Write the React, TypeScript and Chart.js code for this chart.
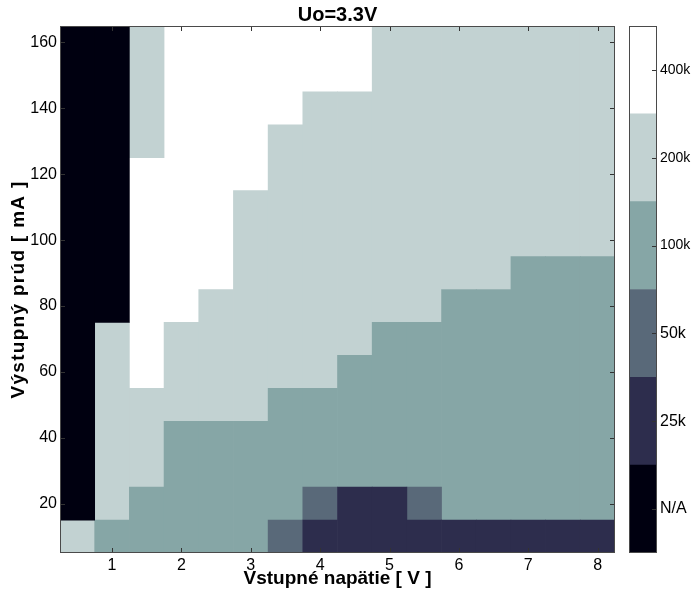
import React, { useEffect, useRef } from 'react';
import { Chart, registerables } from 'chart.js';

Chart.register(...registerables);

// ---- text ----
const titleText = 'Uo=3.3V';
const xTitle = 'Vstupné napätie [ V ]';
const yTitle = 'Výstupný prúd [ mA ]';

// ---- axes ----
const voltages = [0.5, 1.0, 1.5, 2.0, 2.5, 3.0, 3.5, 4.0, 4.5, 5.0, 5.5, 6.0, 6.5, 7.0, 7.5, 8.0];
const currents = [10, 20, 30, 40, 50, 60, 70, 80, 90, 100, 110, 120, 130, 140, 150, 160];
const xTicks = [1, 2, 3, 4, 5, 6, 7, 8];
const yTicks = [20, 40, 60, 80, 100, 120, 140, 160];

// ---- colour levels (index used in the cell arrays) ----
const levelLabels = ['N/A', '25k', '50k', '100k', '200k', '400k'];
const levelColors = ['#000010', '#2d2d4d', '#596979', '#86a6a6', '#c2d2d2', '#ffffff'];
const levelFontSizes = [16, 16, 16, 14, 14, 14];

// ---- cell levels per input voltage, current 10 -> 160 mA ----
const col_0_5 = [4, 0, 0, 0, 0, 0, 0, 0, 0, 0, 0, 0, 0, 0, 0, 0];
const col_1_0 = [3, 4, 4, 4, 4, 4, 4, 0, 0, 0, 0, 0, 0, 0, 0, 0];
const col_1_5 = [3, 3, 4, 4, 4, 5, 5, 5, 5, 5, 5, 5, 4, 4, 4, 4];
const col_2_0 = [3, 3, 3, 3, 4, 4, 4, 5, 5, 5, 5, 5, 5, 5, 5, 5];
const col_2_5 = [3, 3, 3, 3, 4, 4, 4, 4, 5, 5, 5, 5, 5, 5, 5, 5];
const col_3_0 = [3, 3, 3, 3, 4, 4, 4, 4, 4, 4, 4, 5, 5, 5, 5, 5];
const col_3_5 = [2, 3, 3, 3, 3, 4, 4, 4, 4, 4, 4, 4, 4, 5, 5, 5];
const col_4_0 = [1, 2, 3, 3, 3, 4, 4, 4, 4, 4, 4, 4, 4, 4, 5, 5];
const col_4_5 = [1, 1, 3, 3, 3, 3, 4, 4, 4, 4, 4, 4, 4, 4, 5, 5];
const col_5_0 = [1, 1, 3, 3, 3, 3, 3, 4, 4, 4, 4, 4, 4, 4, 4, 4];
const col_5_5 = [1, 2, 3, 3, 3, 3, 3, 4, 4, 4, 4, 4, 4, 4, 4, 4];
const col_6_0 = [1, 3, 3, 3, 3, 3, 3, 3, 4, 4, 4, 4, 4, 4, 4, 4];
const col_6_5 = [1, 3, 3, 3, 3, 3, 3, 3, 4, 4, 4, 4, 4, 4, 4, 4];
const col_7_0 = [1, 3, 3, 3, 3, 3, 3, 3, 3, 4, 4, 4, 4, 4, 4, 4];
const col_7_5 = [1, 3, 3, 3, 3, 3, 3, 3, 3, 4, 4, 4, 4, 4, 4, 4];
const col_8_0 = [1, 3, 3, 3, 3, 3, 3, 3, 3, 4, 4, 4, 4, 4, 4, 4];

const columns = [
  col_0_5, col_1_0, col_1_5, col_2_0, col_2_5, col_3_0, col_3_5, col_4_0,
  col_4_5, col_5_0, col_5_5, col_6_0, col_6_5, col_7_0, col_7_5, col_8_0,
];

const FONT = '"Liberation Sans", Arial, Helvetica, sans-serif';

function buildDatasets() {
  const halfH = (currents[1] - currents[0]) / 2;
  const perLevel: any[][] = levelLabels.map(() => []);
  columns.forEach((col, ci) => {
    let start = 0;
    for (let r = 1; r <= col.length; r++) {
      if (r === col.length || col[r] !== col[start]) {
        perLevel[col[start]].push({
          x: voltages[ci],
          y: [currents[start] - halfH, currents[r - 1] + halfH],
        });
        start = r;
      }
    }
  });
  return perLevel.map((data, i) => ({
    label: levelLabels[i],
    data,
    backgroundColor: levelColors[i],
    borderWidth: 0,
    grouped: false,
    barPercentage: 1,
    categoryPercentage: 1,
  }));
}

// draw a scale's title with a little extra letter spacing
function spacedTitle(spacing: string) {
  return (s: any) => {
    if (s.__spaced) return;
    const orig = s.drawTitle.bind(s);
    s.drawTitle = () => {
      const c = s.ctx;
      const prev = c.letterSpacing;
      c.letterSpacing = spacing;
      orig();
      c.letterSpacing = prev === undefined ? '0px' : prev;
    };
    s.__spaced = true;
  };
}

const framePlugin = {
  id: 'frame',
  afterDatasetsDraw(chart: any) {
    const { ctx, chartArea: a, scales } = chart;
    const x = scales.x;
    const y = scales.y;
    ctx.save();
    ctx.lineWidth = 1;
    ctx.strokeStyle = '#333333';
    ctx.beginPath();
    const L = 5;
    xTicks.forEach((v) => {
      const px = Math.round(x.getPixelForValue(v)) + 0.5;
      ctx.moveTo(px, a.bottom);
      ctx.lineTo(px, a.bottom - L);
      ctx.moveTo(px, a.top);
      ctx.lineTo(px, a.top + L);
    });
    yTicks.forEach((v) => {
      const py = Math.round(y.getPixelForValue(v)) + 0.5;
      ctx.moveTo(a.left, py);
      ctx.lineTo(a.left + L, py);
      ctx.moveTo(a.right, py);
      ctx.lineTo(a.right - L, py);
    });
    ctx.stroke();
    ctx.strokeStyle = '#4a4a4a';
    ctx.strokeRect(
      Math.round(a.left) + 0.5,
      Math.round(a.top) + 0.5,
      Math.round(a.right) - Math.round(a.left) - 1,
      Math.round(a.bottom) - Math.round(a.top) - 1
    );
    ctx.restore();
  },
};

const colorbarFrame = {
  id: 'cbframe',
  afterDatasetsDraw(chart: any) {
    const { ctx, chartArea: a, scales } = chart;
    const y = scales.y;
    ctx.save();
    ctx.lineWidth = 1;
    ctx.strokeStyle = '#333333';
    ctx.beginPath();
    levelLabels.forEach((_, i) => {
      const py = Math.round(y.getPixelForValue(i + 0.5)) + 0.5;
      ctx.moveTo(a.right, py);
      ctx.lineTo(a.right - 5, py);
    });
    ctx.stroke();
    ctx.strokeStyle = '#4a4a4a';
    ctx.strokeRect(
      Math.round(a.left) + 0.5,
      Math.round(a.top) + 0.5,
      Math.round(a.right) - Math.round(a.left) - 1,
      Math.round(a.bottom) - Math.round(a.top) - 1
    );
    ctx.restore();
  },
};

export default function App() {
  const mainRef = useRef<HTMLCanvasElement | null>(null);
  const cbRef = useRef<HTMLCanvasElement | null>(null);

  useEffect(() => {
    Chart.defaults.font.family = FONT;
    Chart.defaults.font.size = 16;
    Chart.defaults.color = '#000000';

    const halfW = (voltages[1] - voltages[0]) / 2;
    const halfH = (currents[1] - currents[0]) / 2;

    const main = new Chart(mainRef.current as HTMLCanvasElement, {
      type: 'bar',
      data: { datasets: buildDatasets() as any },
      options: {
        responsive: false,
        maintainAspectRatio: false,
        animation: false,
        events: [],
        layout: { padding: { left: 0, right: 79, top: 0, bottom: 0 } },
        plugins: {
          legend: { display: false },
          tooltip: { enabled: false },
          title: {
            display: true,
            text: titleText,
            fullSize: false,
            color: '#000000',
            font: { size: 20, weight: 'bold', lineHeight: 1.1 },
            padding: { top: 4, bottom: 0 },
          },
        },
        scales: {
          x: {
            type: 'linear',
            min: voltages[0] - halfW,
            max: voltages[voltages.length - 1] + halfW,
            offset: false,
            grid: { display: false, drawTicks: false, tickLength: 0 },
            border: { display: false },
            afterBuildTicks: (s: any) => {
              s.ticks = xTicks.map((v) => ({ value: v }));
            },
            afterFit: (s: any) => {
              s.height = 43;
            },
            ticks: { padding: 3, color: '#000000', maxRotation: 0, autoSkip: false, font: { size: 16 } },
            title: {
              display: true,
              text: xTitle,
              color: '#000000',
              font: { size: 19, weight: 'bold' },
              padding: { top: 0, bottom: 6 },
            },
          },
          y: {
            type: 'linear',
            min: currents[0] - halfH,
            max: currents[currents.length - 1] + halfH,
            grid: { display: false, drawTicks: false, tickLength: 0 },
            border: { display: false },
            afterBuildTicks: (s: any) => {
              s.ticks = yTicks.map((v) => ({ value: v }));
            },
            afterFit: (s: any) => {
              s.width = 60;
            },
            afterUpdate: spacedTitle('1.3px'),
            ticks: { padding: 3, color: '#000000', autoSkip: false, font: { size: 16 } },
            title: {
              display: true,
              text: yTitle,
              color: '#000000',
              font: { size: 19, weight: 'bold' },
              padding: { top: 7, bottom: 0 },
            },
          },
        },
      } as any,
      plugins: [framePlugin],
    });

    const cb = new Chart(cbRef.current as HTMLCanvasElement, {
      type: 'bar',
      data: {
        labels: [''],
        datasets: levelLabels.map((l, i) => ({
          label: l,
          data: [[i, i + 1]],
          backgroundColor: levelColors[i],
          borderWidth: 0,
          grouped: false,
          barPercentage: 1,
          categoryPercentage: 1,
        })) as any,
      },
      options: {
        responsive: false,
        maintainAspectRatio: false,
        animation: false,
        events: [],
        layout: { padding: { left: 9, right: 0, top: 26, bottom: 43 } },
        plugins: { legend: { display: false }, tooltip: { enabled: false }, title: { display: false } },
        scales: {
          x: { display: false },
          y: {
            position: 'right',
            min: 0,
            max: levelLabels.length,
            grid: { display: false, drawTicks: false, tickLength: 0 },
            border: { display: false },
            afterBuildTicks: (s: any) => {
              s.ticks = levelLabels.map((_, i) => ({ value: i + 0.5 }));
            },
            afterFit: (s: any) => {
              s.width = 37;
            },
            ticks: {
              padding: 3,
              color: '#000000',
              autoSkip: false,
              callback: (_v: any, i: number) => levelLabels[i],
              font: (ctx: any) => ({ size: levelFontSizes[ctx.index] ?? 14 }),
            },
          },
        },
      } as any,
      plugins: [colorbarFrame],
    });

    return () => {
      main.destroy();
      cb.destroy();
    };
  }, []);

  return (
    <div style={{ position: 'absolute', left: 0, top: 0, width: 694, height: 596, background: '#ffffff' }}>
      <canvas ref={mainRef} width={694} height={596} style={{ position: 'absolute', left: 0, top: 0, width: 694, height: 596 }} />
      <canvas ref={cbRef} width={74} height={596} style={{ position: 'absolute', left: 620, top: 0, width: 74, height: 596 }} />
    </div>
  );
}
